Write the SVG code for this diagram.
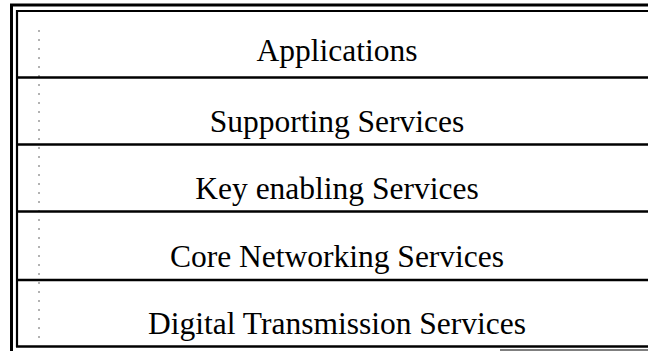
<svg xmlns="http://www.w3.org/2000/svg" width="648" height="351" viewBox="0 0 648 351">
  <style>
    .rule { stroke: #000; fill: none; }
    .outer { stroke-width: 3; }
    .inner { stroke-width: 2.2; }
    .sep { stroke-width: 2.6; }
    .label { font-family: "Liberation Serif", "Times New Roman", serif; font-size: 31.5px; fill: #000; text-anchor: middle; }
    .trace { stroke: #666; stroke-width: 1; stroke-dasharray: 2 7; fill: none; }
  </style>
  <rect width="648" height="351" fill="#fff"/>

  <!-- double frame: outer and inner border lines -->
  <g id="frame">
    <line class="rule outer" x1="10" y1="5" x2="648" y2="5"/>
    <line class="rule inner" x1="16" y1="11" x2="648" y2="11"/>
    <line class="rule outer" x1="11.5" y1="4" x2="11.5" y2="351"/>
    <line class="rule inner" x1="17" y1="10" x2="17" y2="347"/>
    <line class="rule sep" x1="16" y1="346.5" x2="648" y2="346.5"/>
    <line class="rule" stroke="#888" stroke-width="1" x1="500" y1="350" x2="648" y2="350"/>
    <line class="trace" x1="39" y1="30" x2="39" y2="340"/>
  </g>

  <!-- layer separators -->
  <g id="connectors">
    <line class="rule sep" x1="17" y1="77.5" x2="648" y2="77.5"/>
    <line class="rule sep" x1="17" y1="144.5" x2="648" y2="144.5"/>
    <line class="rule sep" x1="17" y1="211.5" x2="648" y2="211.5"/>
    <line class="rule sep" x1="17" y1="280" x2="648" y2="280"/>
  </g>

  <g id="applications">
    <text class="label" x="337" y="61">Applications</text>
  </g>
  <g id="supporting-services">
    <text class="label" x="337" y="132">Supporting Services</text>
  </g>
  <g id="key-enabling-services">
    <text class="label" x="337" y="199">Key enabling Services</text>
  </g>
  <g id="core-networking-services">
    <text class="label" x="337" y="267">Core Networking Services</text>
  </g>
  <g id="digital-transmission-services">
    <text class="label" x="337" y="334">Digital Transmission Services</text>
  </g>
</svg>
